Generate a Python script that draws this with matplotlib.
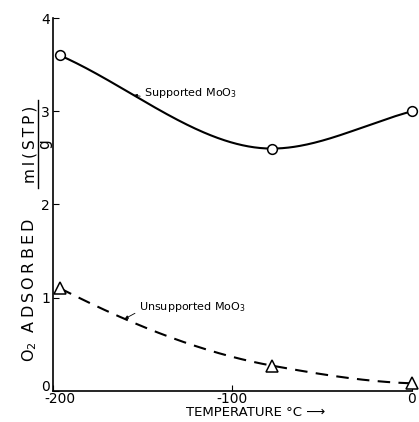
import numpy as np
import matplotlib
matplotlib.use("Agg")
import matplotlib.pyplot as plt
from matplotlib.lines import Line2D
import matplotlib.transforms as mtransforms

temps = [-196, -78, 0]
supported = [3.6, 2.6, 3.0]
unsupported = [1.1, 0.27, 0.08]
xticks = [-200, -100, 0]
yticks = [0, 1, 2, 3, 4]


def slopes(x, y, ends):
    x = np.asarray(x, float); y = np.asarray(y, float)
    h = np.diff(x); dl = np.diff(y) / h
    d = np.zeros_like(y)
    for k in range(1, len(x) - 1):
        if dl[k - 1] * dl[k] > 0:
            w1 = 2 * h[k] + h[k - 1]; w2 = h[k] + 2 * h[k - 1]
            d[k] = (w1 + w2) / (w1 / dl[k - 1] + w2 / dl[k])
    if ends == 'secant':
        d[0] = dl[0]; d[-1] = dl[-1]
    else:
        d[0] = ((2 * h[0] + h[1]) * dl[0] - h[0] * dl[1]) / (h[0] + h[1])
        d[-1] = ((2 * h[-1] + h[-2]) * dl[-1] - h[-1] * dl[-2]) / (h[-1] + h[-2])
    return d


def hermite(x, y, ends, n=300):
    x = np.asarray(x, float); y = np.asarray(y, float)
    d = slopes(x, y, ends)
    xs = np.linspace(x[0], x[-1], n)
    i = np.clip(np.searchsorted(x, xs) - 1, 0, len(x) - 2)
    h = x[i + 1] - x[i]
    t = (xs - x[i]) / h
    ys = ((2 * t**3 - 3 * t**2 + 1) * y[i] + (t**3 - 2 * t**2 + t) * h * d[i]
          + (-2 * t**3 + 3 * t**2) * y[i + 1] + (t**3 - t**2) * h * d[i + 1])
    return xs, ys


fig = plt.figure(figsize=(4.19, 4.22), dpi=100)
ax = fig.add_axes([0.126, 0.074, 0.857, 0.883])

sx, sy = hermite(temps, supported, 'secant')
ux, uy = hermite(temps, unsupported, 'pchip')
ax.plot(sx, sy, color='black', lw=1.5, clip_on=False)
ax.plot(ux, uy, color='black', lw=1.5, ls=(0, (6, 4)), clip_on=False)
ax.plot(temps, supported, 'o', ms=7, mfc='white', mec='black', mew=1.1, clip_on=False, zorder=5)
ax.plot(temps, unsupported, '^', ms=8, mfc='white', mec='black', mew=1.1, clip_on=False, zorder=5)

ax.set_xlim(-200, 0)
ax.set_ylim(0, 4)
ax.set_xticks(xticks)
ax.set_xticklabels(['-200', '-100', '0'])
ax.set_yticks(yticks)
ax.tick_params(direction='in', length=4, labelsize=10)
ax.tick_params(axis='x', pad=1)
ax.tick_params(axis='y', pad=2)
for s in ['top', 'right']:
    ax.spines[s].set_visible(False)
for s in ['left', 'bottom']:
    ax.spines[s].set_linewidth(1.2)

first = ax.get_xticklabels()[0]
first.set_transform(first.get_transform() +
                    mtransforms.ScaledTranslation(7 / 100, 0, fig.dpi_scale_trans))
yzero = ax.get_yticklabels()[0]
yzero.set_transform(yzero.get_transform() +
                    mtransforms.ScaledTranslation(0, 5 / 100, fig.dpi_scale_trans))

ax.annotate('Supported MoO$_3$', xy=(-155, np.interp(-155, sx, sy)), xytext=(-149, 3.2),
            fontsize=8, va='center',
            arrowprops=dict(arrowstyle='-|>', lw=0.6, color='black', mutation_scale=5,
                            shrinkA=1, shrinkB=0, relpos=(0, 0.2)))
ax.annotate('Unsupported MoO$_3$', xy=(-160, np.interp(-160, ux, uy)), xytext=(-152, 0.9),
            fontsize=8, va='center',
            arrowprops=dict(arrowstyle='-|>', lw=0.6, color='black', mutation_scale=5,
                            shrinkA=1, shrinkB=0, relpos=(0, 0.2)))

fig.text(0.61, 1 - 412 / 422, 'TEMPERATURE °C ⟶', fontsize=9.5, ha='center', va='center')

ts = '\u2009'
ylab = 'O$_2$' + ts * 3 + ts.join('ADSORBED')
fig.text(30 / 419, 1 - 290 / 422, ylab, fontsize=11.5, rotation=90, ha='center', va='center')
fig.text(30 / 419, 1 - 144 / 422, ts.join('ml(STP)'), fontsize=11, rotation=90,
         ha='center', va='center')
fig.text(45 / 419, 1 - 144 / 422, 'g', fontsize=11, rotation=90, ha='center', va='center')
fig.add_artist(Line2D([38 / 419, 38 / 419], [1 - 100 / 422, 1 - 188 / 422],
                      transform=fig.transFigure, color='black', lw=1.0))

fig.savefig('out.png', dpi=100, facecolor='white')
